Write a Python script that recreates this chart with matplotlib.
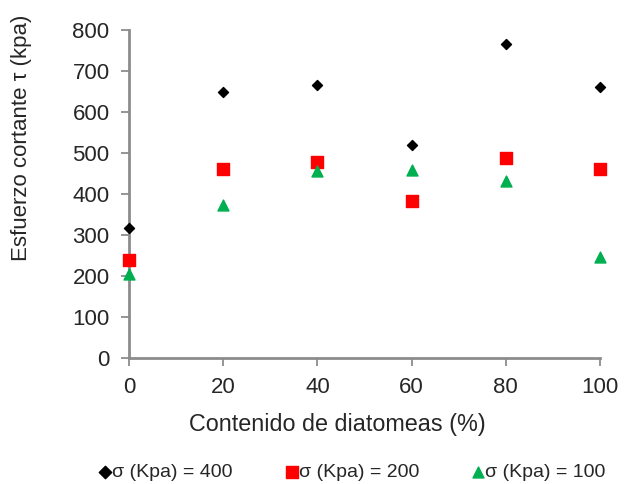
import matplotlib
matplotlib.use("Agg")
import matplotlib.pyplot as plt

plt.rcParams['font.family'] = ['Liberation Sans', 'DejaVu Sans']

# datos
contenido = [0, 20, 40, 60, 80, 100]
tau_400 = [317, 648, 667, 519, 766, 662]
tau_200 = [238, 461, 479, 384, 487, 461]
tau_100 = [206, 374, 455, 458, 431, 246]
etiquetas = ['σ (Kpa) = 400', 'σ (Kpa) = 200', 'σ (Kpa) = 100']

W, H = 643, 484
fig = plt.figure(figsize=(W / 100, H / 100), dpi=100)
# eje: x de 129 a 600 px, y de 30 a 358 px
ax = fig.add_axes([129 / W, 1 - 358 / H, (600 - 129) / W, (358 - 30) / H])

ax.scatter(contenido, tau_400, marker='D', s=26, c='black', label=etiquetas[0], zorder=3, clip_on=False)
ax.scatter(contenido, tau_200, marker='s', s=68, c='#ff0000', label=etiquetas[1], zorder=3, clip_on=False)
ax.scatter(contenido, tau_100, marker='^', s=62, c='#00b050', label=etiquetas[2], zorder=3, clip_on=False)

ax.set_xlim(0, 100)
ax.set_ylim(0, 800)
ax.set_xticks(contenido)
ax.set_yticks(range(0, 801, 100))

for s in ['top', 'right']:
    ax.spines[s].set_visible(False)
for s in ['left', 'bottom']:
    ax.spines[s].set_color('#8c8c8c')
    ax.spines[s].set_linewidth(2)
ax.tick_params(direction='out', length=6, width=1.3, color='#8c8c8c', labelsize=16, labelcolor='#262626', pad=8)

fig.text(337 / W, 1 - 425 / H, 'Contenido de diatomeas (%)', fontsize=16.8, color='#262626',
         ha='center', va='center')
fig.text(22 / W, 1 - 138 / H, 'Esfuerzo cortante τ (kpa)', fontsize=16, color='#262626',
         ha='center', va='center', rotation=90)

leg = fig.legend(loc='center', bbox_to_anchor=(352 / W, 1 - 472 / H), ncol=3, frameon=False, fontsize=14,
                 handletextpad=0.0, columnspacing=2.7, handlelength=0.7, borderpad=0, markerscale=1.0,
                 labelcolor='#262626')
leg.legend_handles[0].set_sizes([40])

fig.savefig('out.png', dpi=100)
